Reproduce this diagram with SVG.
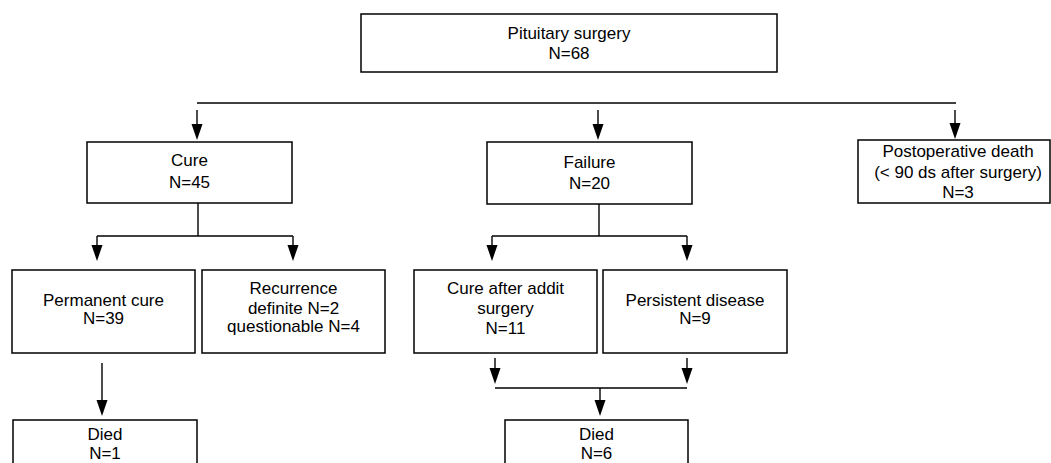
<svg xmlns="http://www.w3.org/2000/svg" width="1051" height="463" viewBox="0 0 1051 463">
<style>
  .box { fill: #ffffff; stroke: #000000; stroke-width: 1.5; }
  .lbl { font-family: "Liberation Sans", Arial, sans-serif; font-size: 17px; fill: #000000; text-anchor: middle; }
  .ln { stroke: #000000; stroke-width: 1.4; fill: none; }
</style>
<defs>
  <path id="ah" d="M-5.5,-16 L5.5,-16 L0,0 Z" fill="#000000"/>
</defs>
<rect width="1051" height="463" fill="#ffffff"/>

<g id="connectors">
  <line class="ln" x1="197" y1="103" x2="956" y2="103"/>
  <line class="ln" x1="197" y1="110" x2="197" y2="132"/>
  <line class="ln" x1="598" y1="110" x2="598" y2="132"/>
  <line class="ln" x1="955" y1="110" x2="955" y2="130"/>
  <line class="ln" x1="198" y1="203" x2="198" y2="236"/>
  <line class="ln" x1="97" y1="236" x2="293" y2="236"/>
  <line class="ln" x1="97" y1="236" x2="97" y2="252"/>
  <line class="ln" x1="293" y1="236" x2="293" y2="252"/>
  <line class="ln" x1="599" y1="204" x2="599" y2="236"/>
  <line class="ln" x1="492" y1="236" x2="687" y2="236"/>
  <line class="ln" x1="492" y1="236" x2="492" y2="252"/>
  <line class="ln" x1="687" y1="236" x2="687" y2="252"/>
  <line class="ln" x1="102" y1="363" x2="102" y2="408"/>
  <line class="ln" x1="495" y1="358" x2="495" y2="376"/>
  <line class="ln" x1="687" y1="358" x2="687" y2="376"/>
  <line class="ln" x1="495" y1="388" x2="687" y2="388"/>
  <line class="ln" x1="600" y1="388" x2="600" y2="408"/>
  <use href="#ah" x="197" y="140"/>
  <use href="#ah" x="598" y="140"/>
  <use href="#ah" x="955" y="139"/>
  <use href="#ah" x="97" y="261"/>
  <use href="#ah" x="293" y="261"/>
  <use href="#ah" x="492" y="261"/>
  <use href="#ah" x="687" y="261"/>
  <use href="#ah" x="102" y="416"/>
  <use href="#ah" x="495" y="384"/>
  <use href="#ah" x="687" y="384"/>
  <use href="#ah" x="600" y="416"/>
</g>

<g id="n_surgery">
  <rect class="box" x="361" y="14" width="416" height="58"/>
  <text class="lbl" x="569" y="39">Pituitary surgery</text>
  <text class="lbl" x="569" y="59">N=68</text>
</g>

<g id="n_cure">
  <rect class="box" x="87" y="142" width="205" height="61"/>
  <text class="lbl" x="189.5" y="166">Cure</text>
  <text class="lbl" x="189.5" y="188">N=45</text>
</g>

<g id="n_failure">
  <rect class="box" x="487" y="142" width="205" height="62"/>
  <text class="lbl" x="589.5" y="168">Failure</text>
  <text class="lbl" x="589.5" y="189">N=20</text>
</g>

<g id="n_postop">
  <rect class="box" x="858" y="140" width="192" height="63"/>
  <text class="lbl" x="958" y="157">Postoperative death</text>
  <text class="lbl" x="958" y="178">(&lt; 90 ds after surgery)</text>
  <text class="lbl" x="958" y="198">N=3</text>
</g>

<g id="n_permanent">
  <rect class="box" x="12" y="270" width="183" height="83"/>
  <text class="lbl" x="103.5" y="306">Permanent cure</text>
  <text class="lbl" x="103.5" y="324">N=39</text>
</g>

<g id="n_recurrence">
  <rect class="box" x="202" y="270" width="183" height="83"/>
  <text class="lbl" x="293.5" y="294">Recurrence</text>
  <text class="lbl" x="293.5" y="314">definite N=2</text>
  <text class="lbl" x="293.5" y="332">questionable N=4</text>
</g>

<g id="n_cure_addit">
  <rect class="box" x="414" y="270" width="183" height="83"/>
  <text class="lbl" x="505.5" y="294">Cure after addit</text>
  <text class="lbl" x="505.5" y="314">surgery</text>
  <text class="lbl" x="505.5" y="334">N=11</text>
</g>

<g id="n_persistent">
  <rect class="box" x="603" y="270" width="184" height="83"/>
  <text class="lbl" x="695" y="306">Persistent disease</text>
  <text class="lbl" x="695" y="324">N=9</text>
</g>

<g id="n_died1">
  <rect class="box" x="13" y="420" width="184" height="60"/>
  <text class="lbl" x="105" y="440">Died</text>
  <text class="lbl" x="105" y="459">N=1</text>
</g>

<g id="n_died6">
  <rect class="box" x="505" y="420" width="183" height="60"/>
  <text class="lbl" x="596.5" y="440">Died</text>
  <text class="lbl" x="596.5" y="459">N=6</text>
</g>
</svg>
